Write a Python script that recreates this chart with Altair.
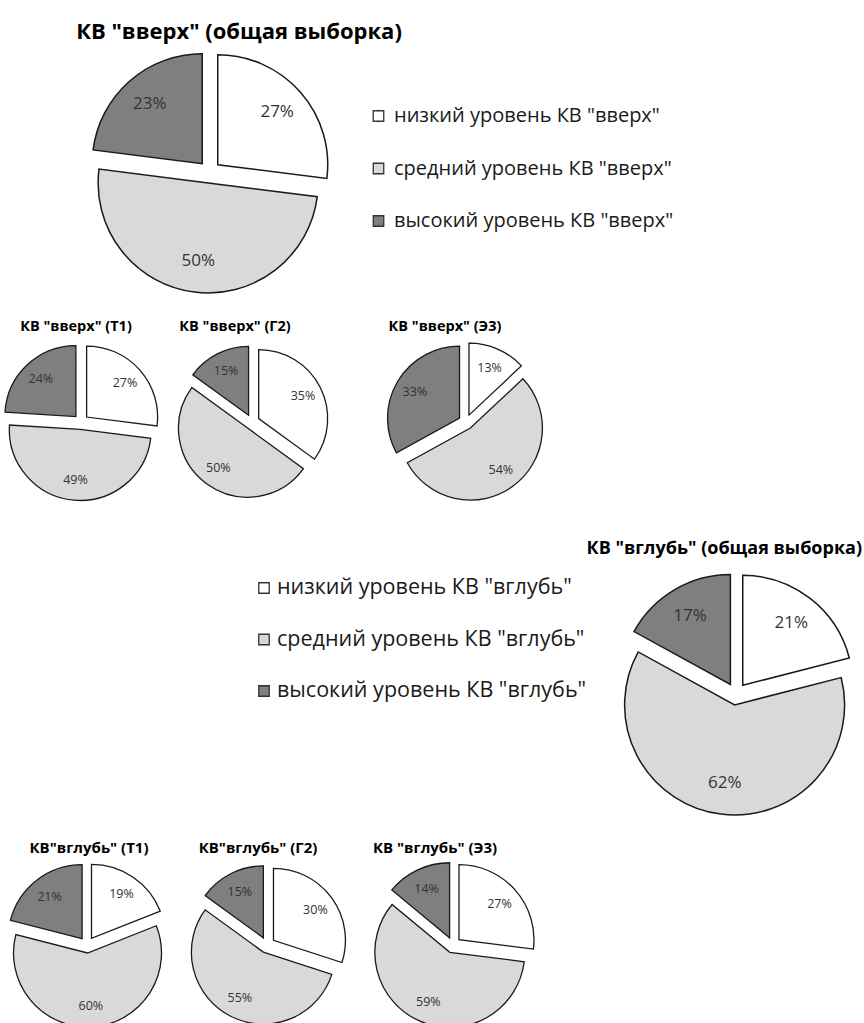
import altair as alt
import pandas as pd

# ---------------- data ----------------
levels = ["низкий", "средний", "высокий"]
level_colors = ["#ffffff", "#d9d9d9", "#7f7f7f"]

up_titles = ['КВ "вверх" (общая выборка)', 'КВ "вверх" (Т1)', 'КВ "вверх" (Г2)', 'КВ "вверх" (Э3)']
up_total = [27, 50, 23]
up_t1 = [27, 49, 24]
up_g2 = [35, 50, 15]
up_e3 = [13, 54, 33]

deep_titles = ['КВ "вглубь" (общая выборка)', 'КВ"вглубь" (Т1)', 'КВ"вглубь" (Г2)', 'КВ "вглубь" (Э3)']
deep_total = [21, 62, 17]
deep_t1 = [19, 60, 21]
deep_g2 = [30, 55, 15]
deep_e3 = [27, 59, 14]

up_legend = ['низкий уровень КВ "вверх"', 'средний уровень КВ "вверх"', 'высокий уровень КВ "вверх"']
deep_legend = ['низкий уровень КВ "вглубь"', 'средний уровень КВ "вглубь"', 'высокий уровень КВ "вглубь"']

FONT = "Open Sans"
color_scale = alt.Scale(domain=levels, range=level_colors)


def pie_panel(values, title, R, e, left, right, above, below,
              tsize, tdx, tbase, tanchor="middle", lsize=12.5, lfrac=0.72, sw=1.3):
    df = pd.DataFrame({"level": levels, "value": values, "k": [0, 1, 2]})
    base = (
        alt.Chart(df)
        .transform_joinaggregate(total="sum(value)")
        .transform_window(cum="sum(value)", sort=[alt.SortField("k", order="ascending")])
        .transform_calculate(t0="2*PI*(datum.cum - datum.value)/datum.total")
        .transform_calculate(t1="2*PI*datum.cum/datum.total")
        .transform_calculate(tm="(datum.t0 + datum.t1)/2")
        .transform_calculate(ox=f"{e}*sin(datum.tm)")
        .transform_calculate(oy=f"{e}*cos(datum.tm)")
        .transform_calculate(lx=f"{e + R * lfrac}*sin(datum.tm)")
        .transform_calculate(ly=f"{e + R * lfrac}*cos(datum.tm)")
        .transform_calculate(lab="datum.value + '%'")
    )
    xs = alt.Scale(domain=[-left, right], nice=False, zero=False)
    ys = alt.Scale(domain=[-below, above], nice=False, zero=False)
    arcs = base.mark_arc(outerRadius=R, stroke="#1a1a1a", strokeWidth=sw, clip=True).encode(
        x=alt.X("ox:Q", scale=xs, axis=None),
        y=alt.Y("oy:Q", scale=ys, axis=None),
        theta=alt.Theta("t0:Q", scale=None, stack=False),
        theta2=alt.Theta2("t1:Q"),
        color=alt.Color("level:N", scale=color_scale, legend=None),
    )
    labels = base.mark_text(font=FONT, fontSize=lsize, color="#333333").encode(
        x=alt.X("lx:Q", scale=xs, axis=None),
        y=alt.Y("ly:Q", scale=ys, axis=None),
        text=alt.Text("lab:N"),
    )
    return alt.layer(arcs, labels).properties(
        width=left + right,
        height=above + below,
        title=alt.TitleParams(
            text=title, font=FONT, fontSize=tsize, fontWeight="bold", color="#000000",
            anchor=tanchor, dx=tdx, offset=-(tbase + tsize), frame="group",
            baseline="alphabetic",
        ),
    )


def legend_panel(labels, width, height, sq_x, tx, y0, y1, fsize):
    df = pd.DataFrame({"level": levels, "label": labels})
    ys = alt.Scale(domain=labels, range=[y0, y1], padding=0)
    sq = alt.Chart(df).mark_square(size=110, stroke="#333333", strokeWidth=1.3, opacity=1).encode(
        x=alt.value(sq_x),
        y=alt.Y("label:N", scale=ys, axis=None),
        color=alt.Color("level:N", scale=color_scale, legend=None),
    )
    tx_ = alt.Chart(df).mark_text(align="left", baseline="middle", font=FONT, fontSize=fsize,
                                  color="#1a1a1a").encode(
        x=alt.value(tx),
        y=alt.Y("label:N", scale=ys, axis=None),
        text=alt.Text("label:N"),
    )
    return alt.layer(sq, tx_).properties(width=width, height=height)


# ---------------- rows ----------------
row1 = alt.hconcat(
    pie_panel(up_total, up_titles[0], 110, 11, 209.5, 130.5, 172, 130,
              tsize=22, tdx=69, tbase=39, lsize=17, lfrac=0.72, sw=1.5),
    legend_panel(up_legend, 524, 302, 38.5, 54, 116, 221, 20),
    spacing=0, bounds="flush",
)

row2 = alt.hconcat(
    pie_panel(up_t1, up_titles[1], 71, 7.5, 81, 81, 120, 108, tsize=14.5, tdx=-5, tbase=29),
    pie_panel(up_g2, up_titles[2], 69, 7.5, 90, 90, 120, 108, tsize=14.5, tdx=-17, tbase=29),
    pie_panel(up_e3, up_titles[3], 72, 7.5, 124, 124, 120, 108, tsize=14.5, tdx=-21, tbase=29),
    spacing=0, bounds="flush",
)

row3 = alt.hconcat(
    legend_panel(deep_legend, 608, 300, 264, 277, 58, 161, 21.5),
    pie_panel(deep_total, deep_titles[0], 110, 11, 128, 128, 164, 136,
              tsize=18, tdx=-2, tbase=24, tanchor="end", lsize=17, lfrac=0.72, sw=1.5),
    spacing=0, bounds="flush",
)

row4 = alt.hconcat(
    pie_panel(deep_t1, deep_titles[1], 74, 8, 87, 87, 115, 78, tsize=15, tdx=2, tbase=23),
    pie_panel(deep_g2, deep_titles[2], 72, 8, 93, 93, 115, 78, tsize=15, tdx=-9, tbase=23),
    pie_panel(deep_e3, deep_titles[3], 75, 8, 93, 93, 115, 78, tsize=15, tdx=-18, tbase=23),
    spacing=0, bounds="flush",
)

chart = (
    alt.vconcat(row1, row2, row3, row4, spacing=0)
    .properties(padding=0, background="#ffffff")
    .configure_view(strokeWidth=0)
)

chart.save("out.html", embed_options={"renderer": "svg", "actions": False})
